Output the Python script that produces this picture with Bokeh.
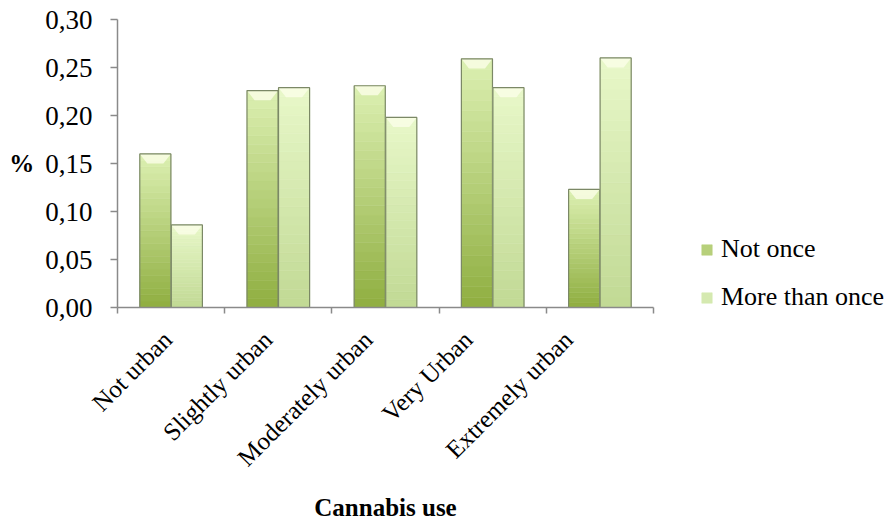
from bokeh.plotting import figure
from bokeh.models import (Range1d, LinearAxis, FixedTicker, CustomJSTickFormatter,
                          Legend, LegendItem, ColumnDataSource)
from bokeh.embed import file_html
from bokeh.resources import INLINE

# --- data ---------------------------------------------------------------
categories = ["Not urban", "Slightly urban", "Moderately urban", "Very Urban", "Extremely urban"]
not_once = [0.160, 0.226, 0.231, 0.259, 0.123]
more_than_once = [0.086, 0.229, 0.198, 0.229, 0.260]
series_names = ["Not once", "More than once"]
y_ticks = [0.00, 0.05, 0.10, 0.15, 0.20, 0.25, 0.30]
y_tick_labels = ["0,00", "0,05", "0,10", "0,15", "0,20", "0,25", "0,30"]

FONT = "Liberation Serif"
GRID = "#8a8a8a"

p = figure(frame_width=536, frame_height=288, output_backend="svg", toolbar_location=None,
           x_range=Range1d(0, len(categories)), y_range=Range1d(0, 0.30),
           x_axis_type=None, y_axis_type=None,
           min_border_left=117, min_border_right=238, min_border_top=19, min_border_bottom=213)
p.outline_line_color = None
p.background_fill_color = "white"
p.border_fill_color = "white"
# slightly compressed range used only to place the slanted category names
p.extra_x_ranges = {"labels": Range1d(0.0, 5.35)}

# y axis with comma decimals and a horizontal "%" title
yaxis = LinearAxis(ticker=FixedTicker(ticks=y_ticks),
                   formatter=CustomJSTickFormatter(args=dict(labels=y_tick_labels),
                                                   code="return labels[Math.round(tick / 0.05)];"))
yaxis.axis_line_color = GRID
yaxis.axis_line_width = 1.5
yaxis.major_tick_line_color = GRID
yaxis.major_tick_line_width = 1.5
yaxis.major_tick_out = 7
yaxis.major_tick_in = 0
yaxis.minor_tick_line_color = None
yaxis.major_label_standoff = 18
yaxis.major_label_text_font = FONT
yaxis.major_label_text_font_size = "27px"
yaxis.major_label_text_color = "black"
yaxis.axis_label = "%"
yaxis.axis_label_orientation = "horizontal"
yaxis.axis_label_standoff = 8
yaxis.axis_label_text_font = FONT
yaxis.axis_label_text_font_size = "25px"
yaxis.axis_label_text_font_style = "bold"
yaxis.axis_label_text_color = "black"
p.add_layout(yaxis, "left")

# x axis line with tick marks at category boundaries
centres = [i + 0.5 for i in range(len(categories))]
bounds = [i for i in range(len(categories) + 1)]
tick_axis = LinearAxis(ticker=FixedTicker(ticks=[], minor_ticks=bounds))
tick_axis.axis_line_color = GRID
tick_axis.axis_line_width = 1.5
tick_axis.major_tick_line_color = None
tick_axis.major_tick_out = 0
tick_axis.major_tick_in = 0
tick_axis.minor_tick_line_color = GRID
tick_axis.minor_tick_line_width = 1.5
tick_axis.minor_tick_out = 6
tick_axis.minor_tick_in = 0
tick_axis.major_label_standoff = 0
p.add_layout(tick_axis, "below")

# slanted category names and the axis title
label_axis = LinearAxis(x_range_name="labels", ticker=FixedTicker(ticks=centres),
                        formatter=CustomJSTickFormatter(args=dict(labels=categories),
                                                        code="return labels[Math.floor(tick)];"))
label_axis.axis_line_color = None
label_axis.major_tick_line_color = None
label_axis.minor_tick_line_color = None
label_axis.major_tick_out = 0
label_axis.major_tick_in = 0
label_axis.major_label_orientation = 0.785398
label_axis.major_label_standoff = 22
label_axis.major_label_text_font = FONT
label_axis.major_label_text_font_size = "25px"
label_axis.major_label_text_color = "black"
label_axis.axis_label = "Cannabis use"
label_axis.axis_label_standoff = 10
label_axis.axis_label_text_font = FONT
label_axis.axis_label_text_font_size = "25px"
label_axis.axis_label_text_font_style = "bold"
label_axis.axis_label_text_color = "black"
p.add_layout(label_axis, "below")

p.ygrid.ticker = FixedTicker(ticks=y_ticks)
p.ygrid.grid_line_color = GRID
p.ygrid.grid_line_width = 1.5
p.xgrid.visible = False


def mix(c1, c2, t):
    a = [int(c1[i:i + 2], 16) for i in (1, 3, 5)]
    b = [int(c2[i:i + 2], 16) for i in (1, 3, 5)]
    return "#%02x%02x%02x" % tuple(round(a[j] + (b[j] - a[j]) * t) for j in range(3))


# gradient bars: each bar is drawn as stacked slices of its own height
N = 24
palettes = [("#8fae40", "#dcf0b2"), ("#c1d994", "#e8f8c9")]
offsets = [-0.147, 0.147]
width = 0.29
bevel_depth = 0.010
legend_items = []
for s, (vals, name) in enumerate(zip([not_once, more_than_once], series_names)):
    xs = [c + offsets[s] for c in centres]
    lo, hi = palettes[s]
    mid_renderer = None
    for k in range(N):
        col = mix(lo, hi, (k + 0.5) / N)
        src = ColumnDataSource(dict(x=xs,
                                    bottom=[v * k / N for v in vals],
                                    top=[v * (k + 1) / N for v in vals]))
        r = p.vbar(x="x", bottom="bottom", top="top", width=width, source=src,
                   fill_color=col, line_color=col, line_width=0.6)
        if k == N // 2:
            mid_renderer = r
    # pale bevel (a tapering trapezoid) at the top of each bar
    bx = [[x - width / 2, x + width / 2, x + width / 2 - 0.07, x - width / 2 + 0.07] for x in xs]
    by = [[v, v, v - bevel_depth, v - bevel_depth] for v in vals]
    p.patches(xs=bx, ys=by, fill_color="#fbfee9", fill_alpha=0.8, line_color=None)
    # outline
    out = ColumnDataSource(dict(x=xs, top=vals))
    p.vbar(x="x", bottom=0, top="top", width=width, source=out,
           fill_color=None, line_color="#7b8866", line_width=1.2)
    legend_items.append(LegendItem(label=name, renderers=[mid_renderer]))

legend = Legend(items=legend_items, location=(47, -5))
legend.border_line_color = None
legend.background_fill_alpha = 0
legend.padding = 0
legend.margin = 0
legend.spacing = 18
legend.glyph_width = 13
legend.glyph_height = 13
legend.label_standoff = 8
legend.label_height = 30
legend.label_text_font = FONT
legend.label_text_font_size = "26px"
legend.label_text_color = "black"
p.add_layout(legend, "right")

open("out.html", "w").write(file_html(p, INLINE))
